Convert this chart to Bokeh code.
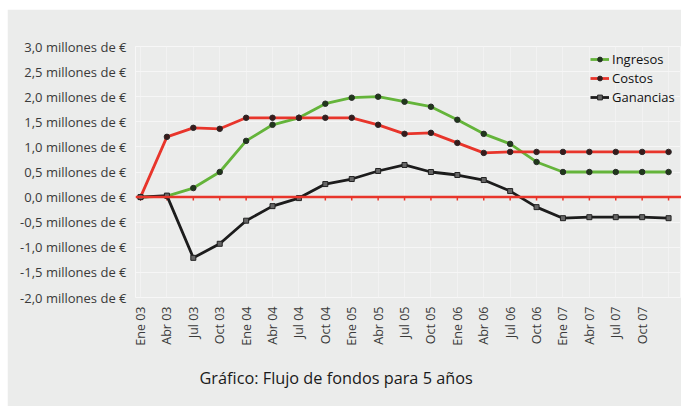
import math
from bokeh.plotting import figure
from bokeh.models import (ColumnDataSource, FixedTicker, Span, Legend, LegendItem, Title)
from bokeh.embed import file_html
from bokeh.resources import INLINE

# ---- data ----
quarters = ["Ene 03", "Abr 03", "Jul 03", "Oct 03", "Ene 04", "Abr 04", "Jul 04", "Oct 04",
            "Ene 05", "Abr 05", "Jul 05", "Oct 05", "Ene 06", "Abr 06", "Jul 06", "Oct 06",
            "Ene 07", "Abr 07", "Jul 07", "Oct 07", "Ene 08"]
ingresos = [0.0, 0.02, 0.18, 0.50, 1.12, 1.44, 1.58, 1.86, 1.98, 2.00, 1.90,
            1.80, 1.54, 1.26, 1.06, 0.70, 0.50, 0.50, 0.50, 0.50, 0.50]
costos = [0.0, 1.20, 1.38, 1.36, 1.58, 1.58, 1.58, 1.58, 1.58, 1.44, 1.26,
          1.28, 1.08, 0.88, 0.90, 0.90, 0.90, 0.90, 0.90, 0.90, 0.90]
ganancias = [0.0, 0.03, -1.21, -0.93, -0.47, -0.18, -0.02, 0.26, 0.36, 0.52, 0.64,
             0.50, 0.44, 0.34, 0.12, -0.20, -0.42, -0.40, -0.40, -0.40, -0.42]
y_ticks = [-2.0, -1.5, -1.0, -0.5, 0.0, 0.5, 1.0, 1.5, 2.0, 2.5, 3.0]
y_labels = ["-2,0 millones de €", "-1,5 millones de €", "-1,0 millones de €",
            "-0,5 millones de €", "0,0 millones de €", "0,5 millones de €",
            "1,0 millones de €", "1,5 millones de €", "2,0 millones de €",
            "2,5 millones de €", "3,0 millones de €"]
labeled = quarters[:20]
title_text = "Gráfico: Flujo de fondos para 5 años"

x = list(range(len(quarters)))
src = ColumnDataSource(dict(x=x, ing=ingresos, cos=costos, gan=ganancias))

BG = "#ebeceb"
FONT = "Open Sans"

p = figure(width=674, height=397, output_backend="svg", toolbar_location=None,
           x_range=(-0.19, 20.49), y_range=(-2.0, 3.0),
           background_fill_color=BG, border_fill_color=BG,
           min_border_left=128, min_border_right=0, min_border_top=37, min_border_bottom=109,
           outline_line_color="#f7f7f7", outline_line_width=1)
p.margin = (9, 0, 0, 7)

# axes
p.yaxis.ticker = FixedTicker(ticks=y_ticks)
p.yaxis.major_label_overrides = {t: l for t, l in zip(y_ticks, y_labels)}
p.xaxis.ticker = FixedTicker(ticks=list(range(len(labeled))))
p.xaxis.major_label_overrides = {i: l for i, l in enumerate(labeled)}
p.xaxis.major_label_orientation = math.pi / 2
for ax in (p.xaxis, p.yaxis):
    ax.axis_line_color = None
    ax.major_tick_line_color = None
    ax.minor_tick_line_color = None
    ax.major_label_text_font = FONT
    ax.major_label_text_font_size = "13px"
    ax.major_label_text_color = "#3a3a3a"
p.xaxis.major_label_text_font_size = "12.5px"
p.yaxis.major_label_standoff = 3
p.xaxis.major_label_standoff = 3

p.ygrid.grid_line_color = "#f6f6f6"
p.ygrid.grid_line_width = 1
p.xgrid.ticker = FixedTicker(ticks=x)
p.xgrid.grid_line_color = "#f2f2f2"
p.xgrid.grid_line_width = 1

# zero line (red axis) with small tick marks
p.add_layout(Span(location=0, dimension="width", line_color="#e8352b", line_width=2.5))
p.segment(x0=x, y0=[0] * len(x), x1=x, y1=[-0.07] * len(x), line_color="#e8352b", line_width=1.5)

G = "#64b43a"
R = "#e8352b"
K = "#1c1c1c"
lg = p.line("x", "ing", source=src, line_color=G, line_width=2.8)
mg = p.scatter("x", "ing", source=src, marker="circle", size=5.5, fill_color="#1f3a1a", line_color="#2a2a2a")
lr = p.line("x", "cos", source=src, line_color=R, line_width=2.8)
mr = p.scatter("x", "cos", source=src, marker="circle", size=5.5, fill_color="#3a1a1a", line_color="#2a2a2a")
lk = p.line("x", "gan", source=src, line_color=K, line_width=2.8)
mk = p.scatter("x", "gan", source=src, marker="square", size=5, fill_color="#666666", line_color="#222222")

legend = Legend(items=[LegendItem(label="Ingresos", renderers=[lg, mg]),
                       LegendItem(label="Costos", renderers=[lr, mr]),
                       LegendItem(label="Ganancias", renderers=[lk, mk])],
                location=(455, 191), background_fill_alpha=0, border_line_color=None,
                label_text_font=FONT, label_text_font_size="13px", label_text_color="#111111",
                glyph_width=19, glyph_height=12, spacing=1, padding=0, margin=0,
                label_standoff=3, label_height=14)
p.add_layout(legend)

p.add_layout(Title(text=title_text, align="left", offset=64, standoff=33,
                   text_font=FONT, text_font_size="16.3px", text_font_style="normal",
                   text_color="#1a1a1a"), "below")

open("out.html", "w").write(file_html(p, INLINE))
